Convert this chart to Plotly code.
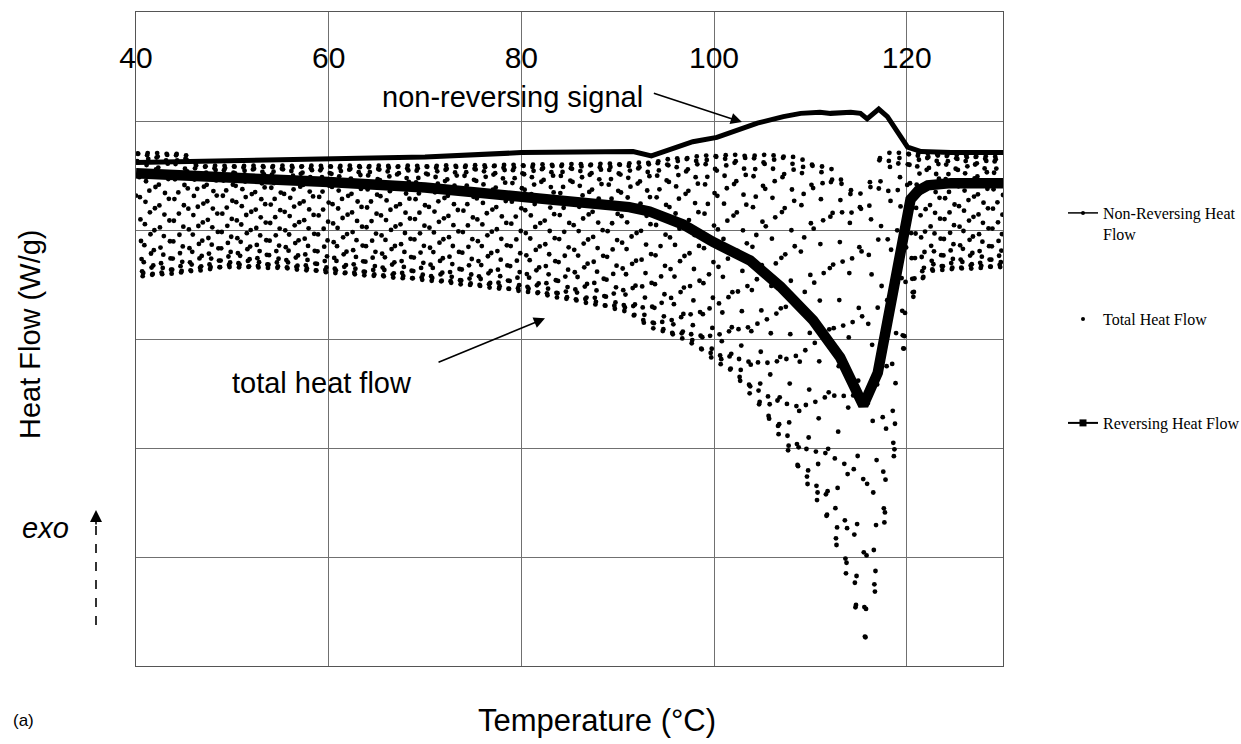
import numpy as np
import plotly.graph_objects as go

# ---------------- data ----------------
# y values are in grid units (plot shows no y tick labels): top border = 0, bottom = -6
nr_temp = [40, 50, 60, 70, 80, 88, 91.6, 93.5, 95.1, 97.8, 100.3, 103, 104.5, 107.2, 109,
           111, 112.1, 114.2, 115.2, 115.9, 117.1, 118, 119.1, 120.1, 121.5, 124.6, 130]
nr_flow = [-1.38, -1.36, -1.34, -1.33, -1.29, -1.28, -1.28, -1.32, -1.27, -1.19, -1.15, -1.07,
           -1.02, -0.96, -0.93, -0.92, -0.93, -0.92, -0.93, -0.98, -0.89, -0.96, -1.11, -1.24,
           -1.28, -1.29, -1.29]

rev_temp = [40, 50, 60, 70, 80.8, 88.1, 91.2, 93.3, 96.8, 99.9, 103.75, 106.9, 110.3, 113.1,
            114.5, 115.5, 117.0, 118.3, 119.4, 120.4, 121.2, 122.2, 124.6, 130]
rev_flow = [-1.48, -1.51, -1.56, -1.61, -1.70, -1.77, -1.79, -1.83, -1.95, -2.11, -2.28, -2.52,
            -2.83, -3.17, -3.44, -3.61, -3.31, -2.71, -2.09, -1.72, -1.64, -1.59, -1.57, -1.57]

# envelope of the modulated total heat flow signal
upper_temp = [40, 45, 46.5, 60, 70, 80, 90, 93, 96, 100, 107.5, 109.5, 112.5, 113.8, 115, 116,
              116.8, 117.5, 120, 125, 130]
total_upper = [-1.29, -1.30, -1.41, -1.41, -1.41, -1.40, -1.39, -1.38, -1.34, -1.31, -1.31,
               -1.36, -1.45, -1.59, -1.68, -1.61, -1.36, -1.29, -1.29, -1.31, -1.33]
lower_temp = [40, 45, 49.5, 55, 60, 70, 80.8, 88, 91, 93.3, 97.2, 100, 102, 104.8, 106.9, 108.6,
              110.7, 111.8, 112.6, 113.6, 114.5, 115.5, 116.6, 117.5, 118.5, 119.4, 120.4, 121.5,
              122.8, 130]
total_lower = [-2.43, -2.39, -2.34, -2.35, -2.39, -2.46, -2.57, -2.69, -2.75, -2.89, -3.01, -3.19,
               -3.31, -3.62, -3.90, -4.17, -4.48, -4.66, -4.87, -5.12, -5.39, -5.85, -5.39, -4.78,
               -4.29, -3.28, -2.67, -2.46, -2.37, -2.34]
mod_period = 1.0          # °C per modulation cycle
mod_first_min = 40.7      # temperature of first minimum
samples_per_period = 17.3

x_ticks = [40, 60, 80, 100, 120]

# ---------------- modulated total heat flow samples ----------------
t_tot = np.arange(40.0, 130.0 + 1e-9, mod_period / samples_per_period)
u = np.interp(t_tot, upper_temp, total_upper)
l = np.interp(t_tot, lower_temp, total_lower)
y_tot = (u + l) / 2 - (u - l) / 2 * np.cos(2 * np.pi * (t_tot - mod_first_min) / mod_period)

# ---------------- layout helpers ----------------
W, H = 1241, 744
L, R, TOP, BOT = 136, 1003, 12, 666
PW, PH = R - L, BOT - TOP


def px(x):
    return (x - L) / PW


def py(y):
    return (BOT - y) / PH


SANS = "Liberation Sans, Arial, sans-serif"
SERIF = "Liberation Serif, Times New Roman, serif"

fig = go.Figure()
fig.add_trace(go.Scatter(x=t_tot, y=y_tot, mode="markers", showlegend=False,
                         marker=dict(color="black", size=4.8, symbol="circle")))
fig.add_trace(go.Scatter(x=nr_temp, y=nr_flow, mode="lines", showlegend=False,
                         line=dict(color="black", width=5)))
fig.add_trace(go.Scatter(x=rev_temp, y=rev_flow, mode="lines", showlegend=False,
                         line=dict(color="black", width=10.5)))

# legend entries
fig.add_trace(go.Scatter(x=[None], y=[None], mode="lines+markers", name="Non-Reversing Heat<br>Flow",
                         line=dict(color="black", width=1.5), marker=dict(color="black", size=4),
                         legend="legend"))
fig.add_trace(go.Scatter(x=[None], y=[None], mode="markers", name="Total Heat Flow",
                         marker=dict(color="black", size=4), legend="legend2"))
fig.add_trace(go.Scatter(x=[None], y=[None], mode="lines+markers", name="Reversing Heat Flow",
                         line=dict(color="black", width=2),
                         marker=dict(color="black", size=7, symbol="square"), legend="legend3"))

legend_common = dict(xanchor="left", yanchor="top", bgcolor="rgba(0,0,0,0)", borderwidth=0,
                     font=dict(family=SERIF, size=16, color="black"), valign="top")

grid_col = "#707070"
fig.update_layout(
    width=W, height=H,
    margin=dict(l=L, r=W - R, t=TOP, b=H - BOT, pad=0, autoexpand=False),
    paper_bgcolor="white", plot_bgcolor="white",
    xaxis=dict(range=[40, 130], side="top", tickvals=x_ticks, ticks="",
               ticklabelposition="inside", ticklabelstandoff=38, ticklabeloverflow="allow",
               tickfont=dict(family=SANS, size=30, color="black"),
               showgrid=True, gridcolor=grid_col, gridwidth=1, zeroline=False,
               showline=True, mirror=True, linecolor="#555555", linewidth=1),
    yaxis=dict(range=[-6, 0], tick0=0, dtick=1, showticklabels=False, ticks="",
               showgrid=True, gridcolor=grid_col, gridwidth=1, zeroline=False,
               showline=True, mirror=True, linecolor="#555555", linewidth=1),
    legend=dict(x=px(1063), y=py(196), **legend_common),
    legend2=dict(x=px(1063), y=py(302), **legend_common),
    legend3=dict(x=px(1063), y=py(406), **legend_common),
    shapes=[dict(type="line", xref="paper", yref="paper", x0=px(96), x1=px(96),
                 y0=py(625), y1=py(522), line=dict(color="black", width=1.6, dash="dash"))],
)

ann_font = dict(family=SANS, size=29, color="black")
C = dict(xanchor="center", yanchor="middle", showarrow=False)
annotations = [
    dict(text="non-reversing signal", xref="paper", yref="paper", x=px(512), y=py(97),
         font=ann_font, **C),
    dict(text="", xref="x", yref="y", x=102.9, y=-1.01, axref="x", ayref="y", ax=93.6, ay=-0.74,
         showarrow=True, arrowhead=2, arrowsize=1.4, arrowwidth=1.6, arrowcolor="black"),
    dict(text="total heat flow", xref="paper", yref="paper", x=px(322), y=py(383),
         font=ann_font, **C),
    dict(text="", xref="x", yref="y", x=82.46, y=-2.81, axref="x", ayref="y", ax=71.25, ay=-3.22,
         showarrow=True, arrowhead=2, arrowsize=1.4, arrowwidth=1.6, arrowcolor="black"),
    dict(text="Heat Flow (W/g)", xref="paper", yref="paper", x=px(30), y=py(335),
         textangle=-90, font=ann_font, **C),
    dict(text="<i>exo</i>", xref="paper", yref="paper", x=px(45), y=py(528),
         font=ann_font, **C),
    dict(text="", xref="paper", yref="paper", x=px(96), y=py(510), ax=0, ay=16,
         showarrow=True, arrowhead=2, arrowsize=1.5, arrowwidth=1.6, arrowcolor="black"),
    dict(text="Temperature (°C)", xref="paper", yref="paper", x=px(597), y=py(721),
         font=dict(family=SANS, size=31, color="black"), **C),
    dict(text="(a)", xref="paper", yref="paper", x=px(23), y=py(720),
         font=dict(family=SANS, size=17, color="black"), **C),
]
fig.update_layout(annotations=annotations)

fig.write_html("out.html")
